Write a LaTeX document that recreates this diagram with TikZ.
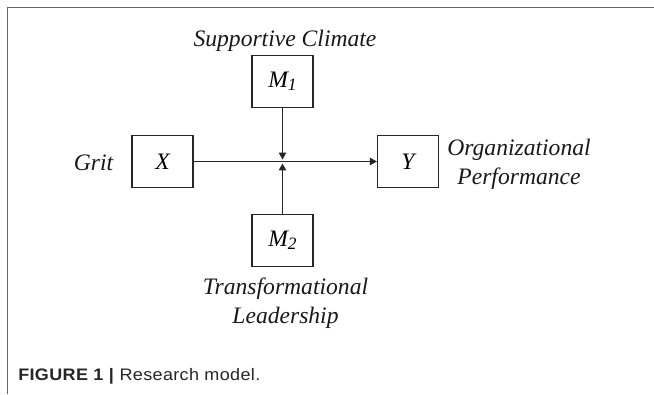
\documentclass[tikz,border=0pt]{standalone}
\usepackage{fontspec}
\setmainfont{Liberation Serif}
\setsansfont{Liberation Sans}
\newfontfamily\capfont[LetterSpace=2]{Liberation Sans}
\usetikzlibrary{arrows.meta}
\newcommand{\subidx}[1]{\raisebox{-0.3ex}{\fontsize{13}{14}\selectfont\itshape #1}}
\begin{document}
\begin{tikzpicture}[x=0.75pt,y=-0.75pt,
  box/.style={draw=black!85, line width=1pt, minimum width=45.75pt, minimum height=39pt, inner sep=0pt,
    font=\fontsize{17.7}{21.75}\selectfont\itshape},
  lbl/.style={font=\fontsize{17.7}{21.75}\selectfont\itshape, inner sep=0pt, align=center, text=black!90},
  conn/.style={draw=black!85, line width=0.8pt, -{Triangle[length=5.2pt,width=5.6pt]}},
  frame/.style={line width=1.1pt, draw=black!60}]
\useasboundingbox (0,0) rectangle (654,394);
\coordinate (fa) at (654,7.5);
\coordinate (fb) at (7.5,7.5);
\coordinate (fc) at (7.5,394);
\draw[frame] (fa) -- (fb) -- (fc);
\node[box] (m1) at (282.5,81.5) {M\subidx{1}};
\node[box] (x) at (162.5,161.5) {X};
\node[box] (y) at (408,161.5) {Y};
\node[box] (m2) at (282.5,240.5) {M\subidx{2}};
\coordinate (jt) at (282.5,159.5);
\coordinate (jb) at (282.5,163.5);
\draw[conn] (x) -- (y);
\draw[conn] (m1) -- (jt);
\draw[conn] (m2) -- (jb);
\node[lbl, anchor=base] (sc) at (285,46) {Supportive Climate};
\node[lbl, anchor=base] (grit) at (93.5,170) {Grit};
\node[lbl, anchor=base] (op) at (519,184) {Organizational\\Performance};
\node[lbl, anchor=base] (tl) at (285.5,323) {Transformational\\Leadership};
\node[anchor=base west, inner sep=0pt, text=black!85, font=\capfont\fontsize{12.5}{14}\selectfont] (cap) at (18,380) {\scalebox{1.08}[1]{\textbf{FIGURE 1 |} Research model.}};
\end{tikzpicture}
\end{document}
